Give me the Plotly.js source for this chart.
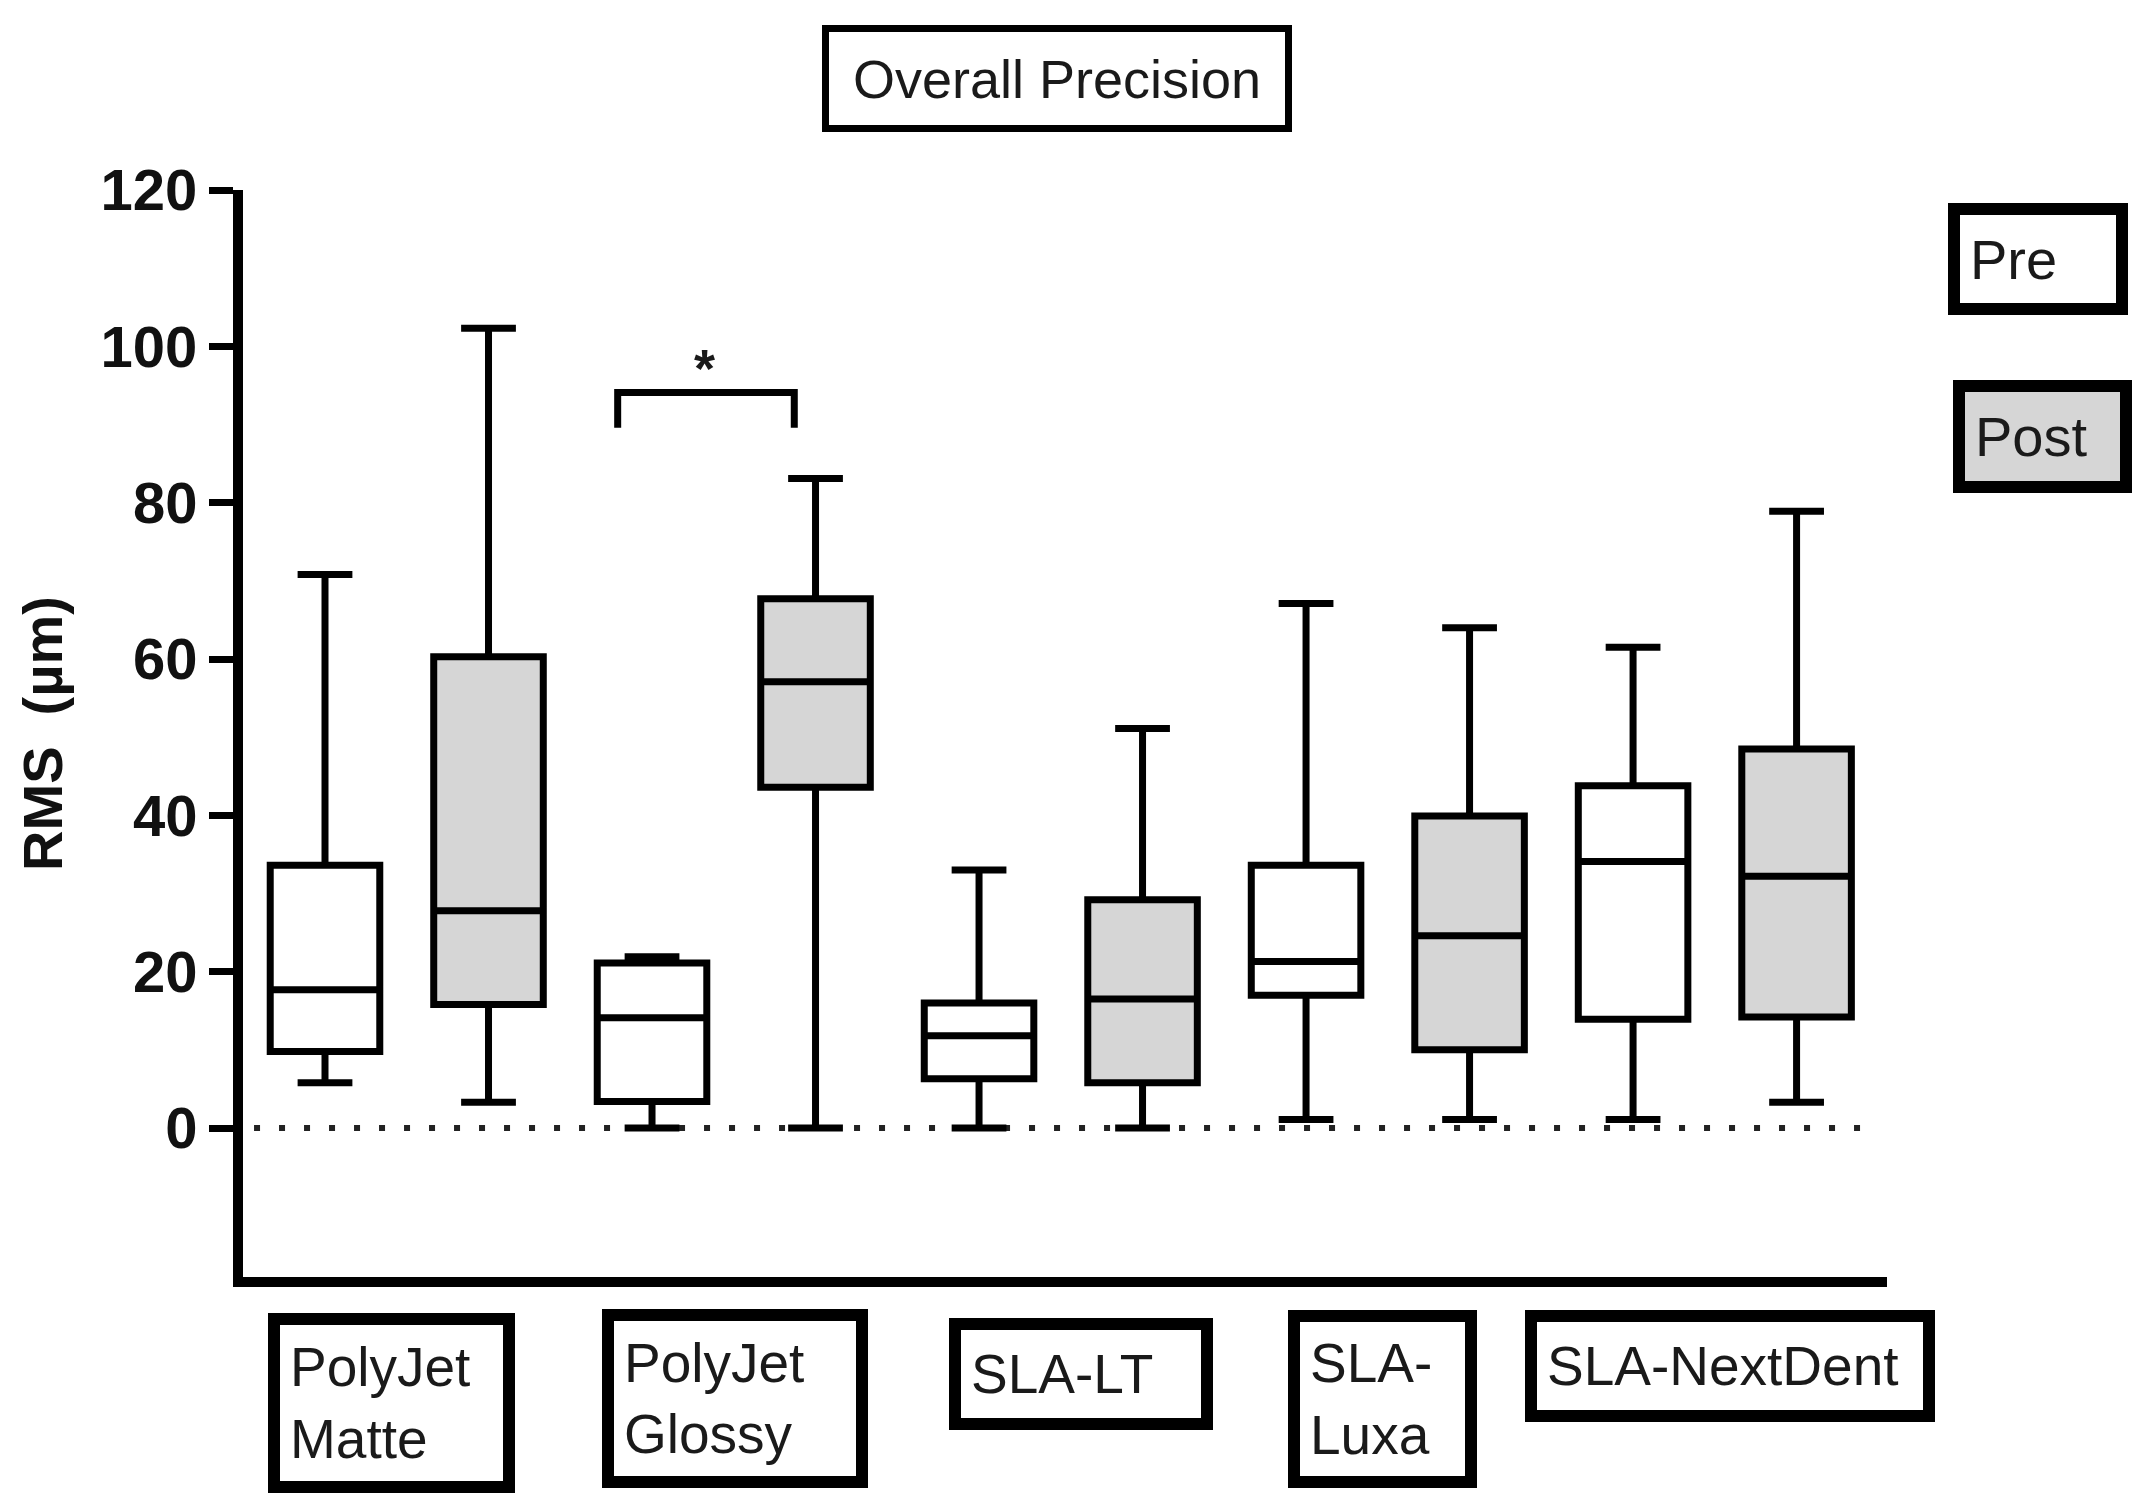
<!DOCTYPE html>
<html><head><meta charset="utf-8">
<script src="https://cdn.plot.ly/plotly-3.0.1.min.js"></script>
<style>html,body{margin:0;padding:0;background:#fff}#chart{width:2151px;height:1509px}</style>
</head><body><div id="chart"></div>
<script>
// ---- data ----
const categories = ['PolyJet<br>Matte', 'PolyJet<br>Glossy', 'SLA-LT', 'SLA-<br>Luxa', 'SLA-NextDent'];
const groupNames = ['Pre', 'Post'];
const prePos  = [1, 3, 5, 7, 9];
const postPos = [2, 4, 6, 8, 10];
const preLow  = [5.8, 0, 0, 1.1, 1.1];
const preQ1   = [9.8, 3.4, 6.3, 17.0, 13.9];
const preMed  = [17.7, 14.1, 11.8, 21.3, 34.1];
const preQ3   = [33.6, 21.1, 16.0, 33.6, 43.8];
const preHigh = [70.8, 21.9, 33.0, 67.1, 61.5];
const postLow  = [3.3, 0, 0, 1.1, 3.3];
const postQ1   = [15.8, 43.6, 5.8, 10.0, 14.2];
const postMed  = [27.8, 57.1, 16.5, 24.6, 32.2];
const postQ3   = [60.3, 67.7, 29.2, 39.9, 48.5];
const postHigh = [102.3, 83.1, 51.1, 64.0, 78.9];
const yTicks = [0, 20, 40, 60, 80, 100, 120];
const sigPairX = [2.79, 3.87];
const sigPairY = [89.6, 94.1];
const sigLabel = '*';
const chartTitle = 'Overall Precision';
const yTitle = 'RMS\u00a0 (µm)';

// ---- styles ----
const FONT = "'Liberation Sans', Arial, Helvetica, sans-serif";
const POST_FILL = '#d6d6d6';
const LW = 7;

const boxCommon = {
  type: 'box', boxpoints: false, width: 0.67, whiskerwidth: 0.5,
  line: {color: '#000', width: LW}, hoverinfo: 'skip', showlegend: false
};
const traces = [
  Object.assign({}, boxCommon, {name: groupNames[0], x: prePos, q1: preQ1, median: preMed, q3: preQ3,
    lowerfence: preLow, upperfence: preHigh, fillcolor: '#ffffff'}),
  Object.assign({}, boxCommon, {name: groupNames[1], x: postPos, q1: postQ1, median: postMed, q3: postQ3,
    lowerfence: postLow, upperfence: postHigh, fillcolor: POST_FILL})
];

// label box geometry (outer width, outer height, x shift px, paper y)
const labelBoxes = [
  {w: 247, h: 180, dx: -15, y: -0.1159},
  {w: 266, h: 179, dx: 1,   y: -0.1118},
  {w: 264, h: 112, dx: 20,  y: -0.0892},
  {w: 189, h: 178, dx: -5,  y: -0.1122},
  {w: 410, h: 112, dx: 15,  y: -0.0819}
];
const BW = 12, PAD = 10;
const annotations = [];
categories.forEach((c, i) => {
  const g = labelBoxes[i];
  annotations.push({
    text: c, xref: 'x', yref: 'paper', x: (prePos[i] + postPos[i]) / 2, y: g.y, xshift: g.dx,
    xanchor: 'center', yanchor: 'middle', showarrow: false, align: 'left', valign: 'middle',
    width: g.w - 2 * (BW + PAD), height: g.h - 2 * (BW + PAD),
    bordercolor: '#000', borderwidth: BW, borderpad: PAD, bgcolor: '#fff',
    font: {family: FONT, size: 55, color: '#1a1a1a'}
  });
});
// legend-like boxes
[[groupNames[0], 1.0918, 0.9365, 180, 112, '#fff'], [groupNames[1], 1.0946, 0.7732, 179, 113, POST_FILL]].forEach(l => {
  annotations.push({
    text: l[0], xref: 'paper', yref: 'paper', x: l[1], y: l[2], xanchor: 'center', yanchor: 'middle',
    showarrow: false, align: 'left', width: l[3] - 2 * (BW + PAD), height: l[4] - 2 * (BW + PAD),
    bordercolor: '#000', borderwidth: BW, borderpad: PAD, bgcolor: l[5],
    font: {family: FONT, size: 56, color: '#1a1a1a'}
  });
});
// title box
annotations.push({
  text: chartTitle, xref: 'paper', yref: 'paper', x: 0.4951, y: 1.103, xanchor: 'center', yanchor: 'middle',
  showarrow: false, align: 'center', width: 470 - 2 * (7 + 6), height: 107 - 2 * (7 + 6),
  bordercolor: '#000', borderwidth: 7, borderpad: 6, bgcolor: '#fff',
  font: {family: FONT, size: 54, color: '#1a1a1a'}
});
// significance star
annotations.push({
  text: sigLabel, xref: 'x', yref: 'y', x: (sigPairX[0] + sigPairX[1]) / 2 - 0.01, y: sigPairY[1] - 1,
  xanchor: 'center', yanchor: 'bottom', showarrow: false,
  font: {family: FONT, size: 54, weight: 'bold', color: '#1a1a1a'}
});

const shapes = [
  {type: 'line', xref: 'x', yref: 'y', x0: 0.566, x1: 10.39, y0: 0, y1: 0,
   line: {color: '#222', width: 6, dash: '6px,19px'}, layer: 'below'},
  {type: 'path', xref: 'x', yref: 'y',
   path: `M ${sigPairX[0]},${sigPairY[0]} L ${sigPairX[0]},${sigPairY[1]} L ${sigPairX[1]},${sigPairY[1]} L ${sigPairX[1]},${sigPairY[0]}`,
   line: {color: '#000', width: 7}}
];

const layout = {
  width: 2151, height: 1509,
  margin: {l: 243, r: 264, t: 190, b: 232, pad: 0},
  paper_bgcolor: '#fff', plot_bgcolor: '#fff',
  boxmode: 'overlay',
  font: {family: FONT, color: '#000'},
  xaxis: {range: [0.4985, 10.553], showline: true, linewidth: 10, linecolor: '#000',
          showticklabels: false, ticks: '', showgrid: false, zeroline: false, fixedrange: true},
  yaxis: {range: [-19.06, 120], tickvals: yTicks, ticktext: yTicks.map(String),
          showline: true, linewidth: 10, linecolor: '#000',
          ticks: 'outside', ticklen: 24, tickwidth: 7, tickcolor: '#000',
          tickfont: {family: FONT, size: 58, weight: 'bold', color: '#111'},
          showgrid: false, zeroline: false, fixedrange: true,
          title: {text: yTitle, standoff: 24, font: {family: FONT, size: 56, weight: 'bold', color: '#111'}}},
  annotations: annotations,
  shapes: shapes
};

Plotly.newPlot('chart', traces, layout, {displayModeBar: false, staticPlot: true});
</script>
</body></html>
